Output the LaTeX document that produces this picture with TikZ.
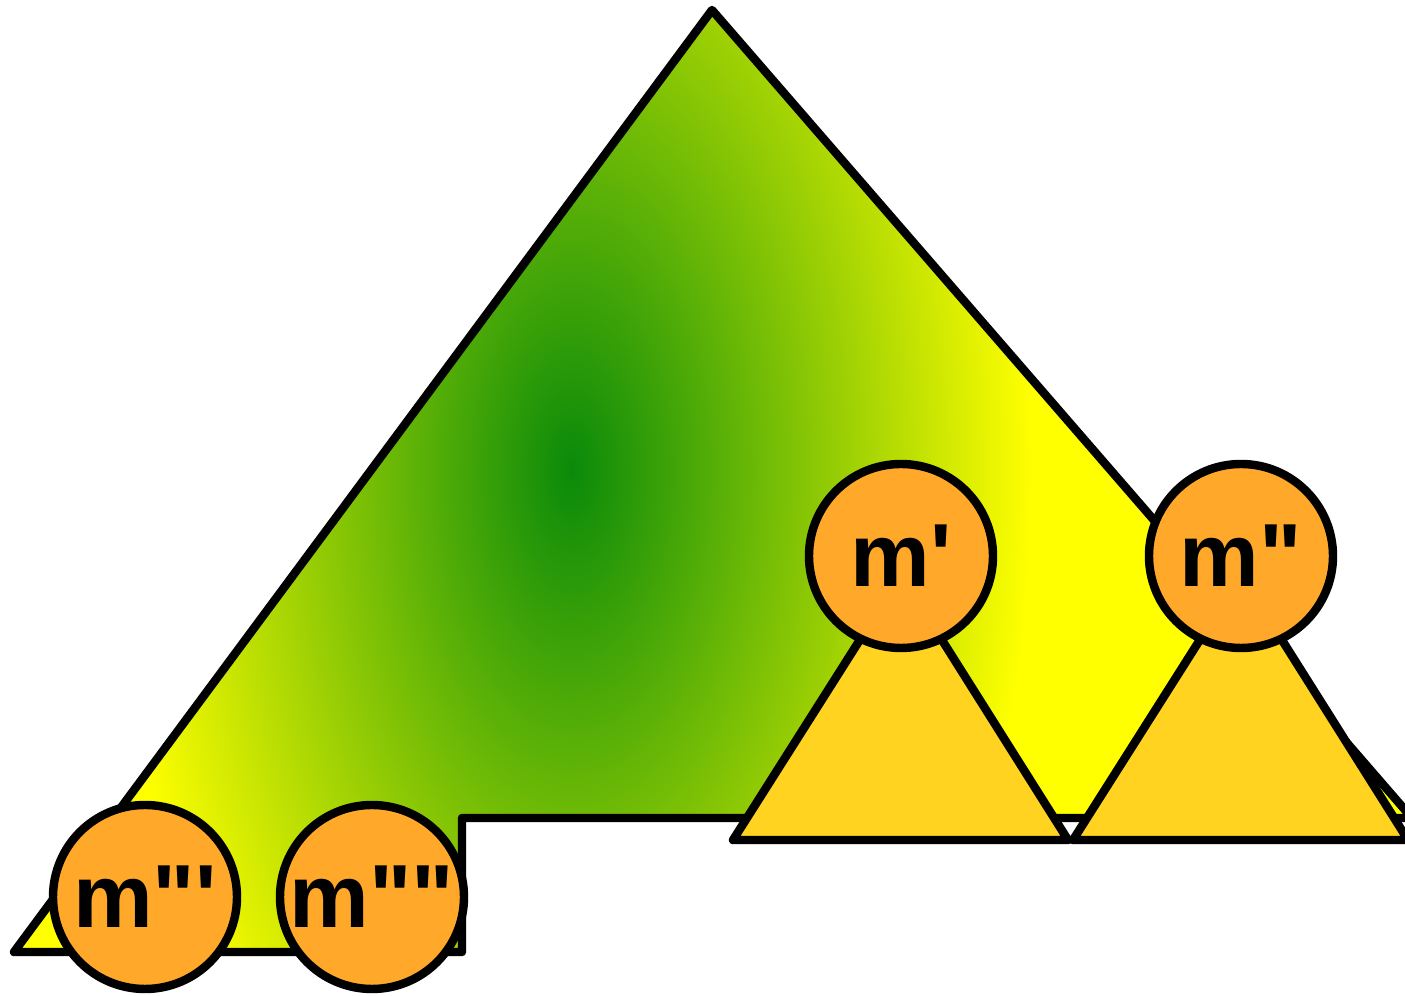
\documentclass[tikz,border=0pt]{standalone}
\usepackage{fontspec}
\usepackage{tikz}
\newfontfamily\labelfont[Ligatures=TeXOff]{Liberation Sans}
\definecolor{Leaf}{HTML}{0A8A0A}
\definecolor{Lemon}{HTML}{FFFF00}
\definecolor{Amber}{HTML}{FFA829}
\definecolor{Gold}{HTML}{FFD320}
\pgfdeclareradialshading{leafglow}{\pgfpointorigin}{color(0bp)=(Leaf); color(7.5bp)=(Lemon!30!Leaf); color(25bp)=(Lemon); color(50bp)=(Lemon)}
\newcommand{\nodelabel}[1]{{\labelfont\bfseries\fontsize{51}{51}\selectfont #1}}
\tikzset{
  outline/.style={draw=black,line width=4.8pt,line join=round},
  ball/.style={outline,circle,fill=Amber,inner sep=0pt,minimum size=3.68cm}
}

\begin{document}
\begin{tikzpicture}[x=1cm,y=1cm]
\useasboundingbox (0,0) rectangle (28.1,19.92);
% big tree with the cut-out corner
\def\bigtree{(14.24,19.72) -- (28.24,3.56) -- (9.24,3.56) -- (9.24,0.88) -- (0.28,0.88) -- cycle}
\fill[Lemon] \bigtree;
\begin{scope}
\clip \bigtree;
\shade[shading=leafglow] (11.44,10.52) ellipse (9.2 and 17.0);
\end{scope}
\draw[outline] \bigtree;
% subtrees
\foreach \x in {18.02,24.82}{\draw[outline,fill=Gold] (\x-3.36,3.12) -- (\x+3.34,3.12) -- (\x,8.42) -- cycle;}
% labelled nodes
\node[ball] (m1) at (18.02,8.80) {\nodelabel{m'}};
\node[ball] (m2) at (24.82,8.80) {\nodelabel{m"}};
\node[ball] (m3) at (2.90,1.98) {\nodelabel{m"'}};
\node[ball] (m4) at (7.44,1.98) {\nodelabel{m""}};
\end{tikzpicture}
\end{document}
